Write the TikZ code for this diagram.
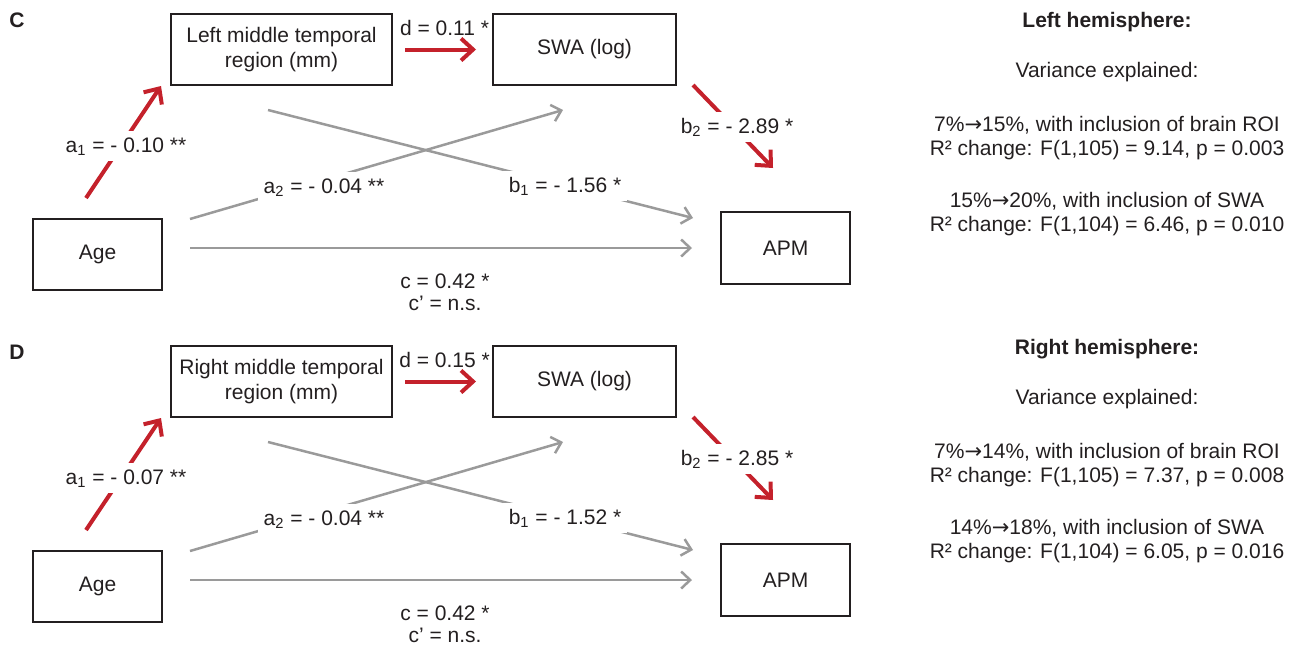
\documentclass[tikz,border=0pt]{standalone}
\usepackage{fontspec}
\setmainfont{Liberation Sans}
\newfontfamily\arrowfont{DejaVu Sans}
\usepackage{tikz}
\usetikzlibrary{arrows.meta}
\definecolor{ink}{HTML}{231F20}
\definecolor{pathred}{HTML}{C4212B}
\definecolor{pathgray}{HTML}{9A9A9A}
\newcommand{\figfont}{\fontsize{10.5}{12.5}\selectfont}
\newcommand{\gainarrow}{{\arrowfont →}}

\begin{document}
\begin{tikzpicture}[x=0.5pt,y=-0.5pt,font=\figfont,text=ink,
    varbox/.style={draw=ink,line width=1pt,inner sep=0pt,align=center,minimum height=35.5pt},
    redpath/.style={draw=pathred,line width=2pt,-{Straight Barb[length=6pt,width=11pt]}},
    graypath/.style={draw=pathgray,line width=1.25pt,-{Straight Barb[length=4.5pt,width=8.5pt]}},
    coef/.style={anchor=base},
    onpath/.style={coef,fill=white,inner sep=3pt},
    note/.style={anchor=base}]
  \useasboundingbox (0,0) rectangle (1304,644);

  % One mediation diagram per hemisphere, the second one shifted down.
  \foreach \oy/\pl/\side/\aone/\dd/\bone/\btwo in
      {0/C/Left/0.10/0.11/1.56/2.89,332/D/Right/0.07/0.15/1.52/2.85}{
    \node[font=\figfont\bfseries,anchor=base] (panel\pl) at (17,27+\oy) {\pl};

    % Variable boxes.
    \node[varbox,minimum width=110.5pt] (roi\pl) at (281.5,49.5+\oy) {\side\ middle temporal\\region (mm)};
    \node[varbox,minimum width=91.5pt] (swa\pl) at (584.5,49.5+\oy) {SWA (log)};
    \node[varbox,minimum width=64.5pt] (age\pl) at (97.5,254.5+\oy) {Age};
    \node[varbox,minimum width=64.5pt,minimum height=36pt] (apm\pl) at (785.5,248+\oy) {APM};

    % Free ends of the paths, the arrows stop short of the boxes.
    \coordinate (a1s\pl) at (86,198+\oy);
    \coordinate (a1e\pl) at (161,86+\oy);
    \coordinate (a2s\pl) at (190,219+\oy);
    \coordinate (a2e\pl) at (563,110+\oy);
    \coordinate (b1s\pl) at (268,110+\oy);
    \coordinate (b1e\pl) at (693,218+\oy);
    \coordinate (b2s\pl) at (693,85+\oy);
    \coordinate (b2e\pl) at (773,168+\oy);
    \coordinate (cs\pl) at (190,248+\oy);

    \draw[graypath] (a2s\pl) -- (a2e\pl);
    \draw[graypath] (b1s\pl) -- (b1e\pl);
    \draw[graypath,shorten >=14pt] (cs\pl) -- (apm\pl);
    \draw[redpath] (a1s\pl) -- (a1e\pl);
    \draw[redpath] (b2s\pl) -- (b2e\pl);
    \draw[redpath,shorten <=6pt,shorten >=8pt] (roi\pl) -- (swa\pl);

    % Coefficients, on white where they break a path.
    \node[onpath] (a1\pl) at (126,152+\oy) {a\textsubscript{1} = - \aone\ **};
    \node[onpath] (a2\pl) at (324,193+\oy) {a\textsubscript{2} = - 0.04 **};
    \node[onpath] (b1\pl) at (565,192+\oy) {b\textsubscript{1} = - \bone\ *};
    \node[onpath] (b2\pl) at (737,133+\oy) {b\textsubscript{2} = - \btwo\ *};
    \node[coef] (d\pl) at (444.5,35+\oy) {d = \dd\ *};
    \node[coef] (c\pl) at (445,288+\oy) {c = 0.42 *};
    \node[coef] (cp\pl) at (445,310+\oy) {c’ = n.s.};
  }

  % Variance explained, right column.
  \foreach \ty/\side/\ra/\rb/\fa/\pa/\rc/\fb/\pb in
      {0/Left/7/15/9.14/0.003/20/6.46/0.010,327/Right/7/14/7.37/0.008/18/6.05/0.016}{
    \node[note,font=\figfont\bfseries] (hem\side) at (1107,27+\ty) {\side\ hemisphere:};
    \node[note] (var\side) at (1107,77+\ty) {Variance explained:};
    \node[note] (roigain\side) at (1107,131+\ty) {\ra\%\gainarrow\rb\%, with inclusion of brain ROI};
    \node[note] (roitest\side) at (1107,155+\ty) {R² change: F(1,105) = \fa, p = \pa};
    \node[note] (swagain\side) at (1107,207+\ty) {\rb\%\gainarrow\rc\%, with inclusion of SWA};
    \node[note] (swatest\side) at (1107,231+\ty) {R² change: F(1,104) = \fb, p = \pb};
  }
\end{tikzpicture}
\end{document}
